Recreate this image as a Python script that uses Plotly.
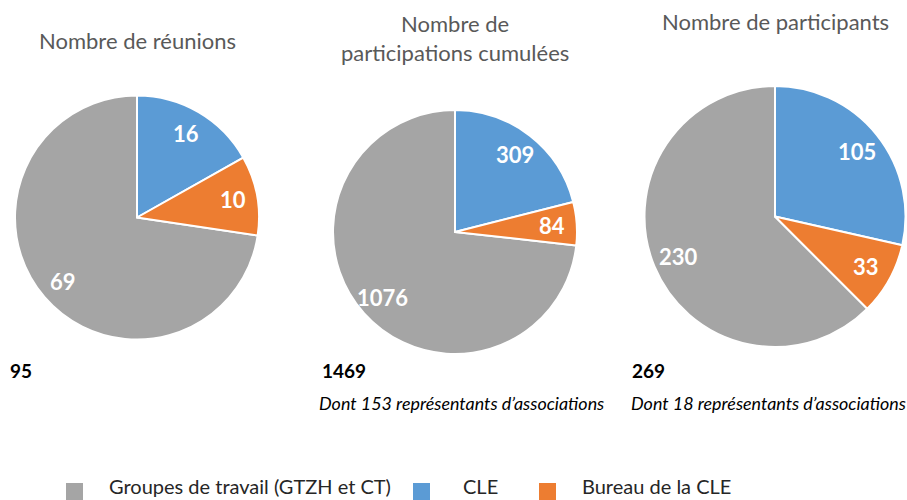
import math
import plotly.graph_objects as go

categories = ["Groupes de travail (GTZH et CT)", "CLE", "Bureau de la CLE"]
colors = ["#A5A5A5", "#5B9BD5", "#ED7D31"]

titles = ["Nombre de réunions", "Nombre de<br>participations cumulées", "Nombre de participants"]
reunions = [69, 16, 10]
participations = [1076, 309, 84]
participants = [230, 105, 33]
totals = ["95", "1469", "269"]
notes = ["", "Dont 153 représentants d’associations", "Dont 18 représentants d’associations"]

W, H = 907, 500
FONT = "Lato"


def px(x):
    return x / W


def py(y):
    return 1 - y / H


# pie geometry in window pixels: (center x, center y, radius)
pies_px = [(137, 217.5, 122), (455, 232, 122), (775, 216.5, 130.5)]
series = [reunions, participations, participants]

fig = go.Figure()
annotations = []
for vals, (cx, cy, r) in zip(series, pies_px):
    total = sum(vals)
    # Groupes starts where CLE + Bureau end (clockwise from 12 o'clock)
    rot = 360.0 * (vals[1] + vals[2]) / total
    fig.add_trace(go.Pie(
        labels=categories,
        values=vals,
        sort=False,
        direction="clockwise",
        rotation=rot,
        marker=dict(colors=colors, line=dict(color="white", width=2)),
        textinfo="none",
        hoverinfo="label+value+percent",
        showlegend=False,
        domain=dict(x=[px(cx - r), px(cx + r)], y=[py(cy + r), py(cy - r)]),
    ))
    # value labels at the middle angle of each slice, ~0.8 radius
    start = {1: 0.0}
    start[2] = vals[1]
    start[0] = vals[1] + vals[2]
    for i, v in enumerate(vals):
        mid = 2 * math.pi * (start[i] + v / 2) / total
        lx = cx + 0.8 * r * math.sin(mid)
        ly = cy - 0.8 * r * math.cos(mid)
        annotations.append(dict(text="<b>%d</b>" % v, x=px(lx), y=py(ly), xref="paper", yref="paper",
                                showarrow=False, xanchor="center", yanchor="middle",
                                font=dict(family=FONT, size=22, color="white")))

# titles
title_pos = [(137, 41), (455, 38), (775, 21)]
for t, (x, y) in zip(titles, title_pos):
    annotations.append(dict(text=t, x=px(x), y=py(y), xref="paper", yref="paper",
                            showarrow=False, xanchor="center", yanchor="middle",
                            font=dict(family=FONT, size=22, color="#595959")))
# totals
total_pos = [(8, 370), (320, 370), (630, 370)]
for t, (x, y) in zip(totals, total_pos):
    annotations.append(dict(text="<b>" + t + "</b>", x=px(x), y=py(y), xref="paper", yref="paper",
                            showarrow=False, xanchor="left", yanchor="middle",
                            font=dict(family=FONT, size=19, color="black")))
note_pos = [(0, 403), (317, 403), (629, 403)]
for t, (x, y) in zip(notes, note_pos):
    if t:
        annotations.append(dict(text="<i>" + t + "</i>", x=px(x), y=py(y), xref="paper", yref="paper",
                                showarrow=False, xanchor="left", yanchor="middle",
                                font=dict(family=FONT, size=17.9, color="black")))

# legend (manual)
shapes = []
legend_pos = [(66, 107), (413, 461), (539, 580)]
for cat, col, (sx, tx) in zip(categories, colors, legend_pos):
    shapes.append(dict(type="rect", xref="paper", yref="paper",
                       x0=px(sx), x1=px(sx + 17), y0=py(500), y1=py(483),
                       fillcolor=col, line=dict(width=0)))
    annotations.append(dict(text=cat, x=px(tx), y=py(486), xref="paper", yref="paper",
                            showarrow=False, xanchor="left", yanchor="middle",
                            font=dict(family=FONT, size=20, color="#262626")))

fig.update_layout(
    width=W, height=H,
    margin=dict(l=0, r=0, t=0, b=0),
    paper_bgcolor="white", plot_bgcolor="white",
    annotations=annotations, shapes=shapes,
    showlegend=False,
)

fig.write_html("out.html",
               config={"displayModeBar": False},
               post_script="document.body.style.margin='0';document.body.style.overflow='hidden';")
